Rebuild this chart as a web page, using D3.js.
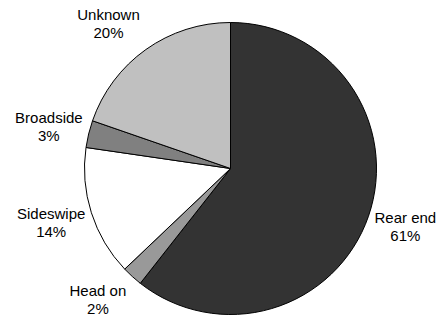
<!DOCTYPE html>
<meta charset="utf-8">
<style>
body { margin: 0; background: #fff; }
.slice { stroke: #000; stroke-width: 1px; }
.label text { font: 15px "Liberation Sans", Arial, sans-serif; fill: #000; }
</style>
<body>
<svg id="chart" width="440" height="320"></svg>
<script src="https://d3js.org/d3.v7.min.js"></script>
<script>
// slice data, clockwise from 12 o'clock
var categories = ["Rear end", "Head on", "Sideswipe", "Broadside", "Unknown"];
var values = [60.6, 2.3, 14.4, 3.0, 19.7];
var colors = ["#333333", "#999999", "#ffffff", "#808080", "#c0c0c0"];

var cx = 230.5, cy = 168.5,
    radius = 146;

var svg = d3.select("#chart");
var g = svg.append("g").attr("transform", "translate(" + cx + "," + cy + ")");

var data = categories.map(function(c, i) { return {name: c, value: values[i], color: colors[i]}; });
var total = d3.sum(values);

var pie = d3.pie().sort(null).value(function(d) { return d.value; });
var arc = d3.arc().innerRadius(0).outerRadius(radius);

var arcs = pie(data);

g.selectAll("path.slice")
  .data(arcs)
  .enter().append("path")
  .attr("class", "slice")
  .attr("d", arc)
  .style("fill", function(d) { return d.data.color; });

var label = g.selectAll("g.label")
  .data(arcs)
  .enter().append("g")
  .attr("class", "label");

label.append("text")
  .attr("text-anchor", "middle")
  .attr("y", -3.7)
  .text(function(d) { return d.data.name; });

label.append("text")
  .attr("text-anchor", "middle")
  .attr("y", 14.3)
  .text(function(d) { return Math.round(d.data.value / total * 100) + "%"; });

// outside-end placement: box sits just beyond the rim at the slice's mid angle
label.attr("transform", function(d) {
  var a = (d.startAngle + d.endAngle) / 2,
      px = radius * Math.sin(a),
      py = -radius * Math.cos(a),
      w = this.getBBox().width;
  var x = px + (Math.sin(a) >= 0 ? 1 : -1) * (w / 2 + 6),
      y = py - Math.cos(a) * 32;
  return "translate(" + x + "," + y + ")";
});
</script>
</body>
